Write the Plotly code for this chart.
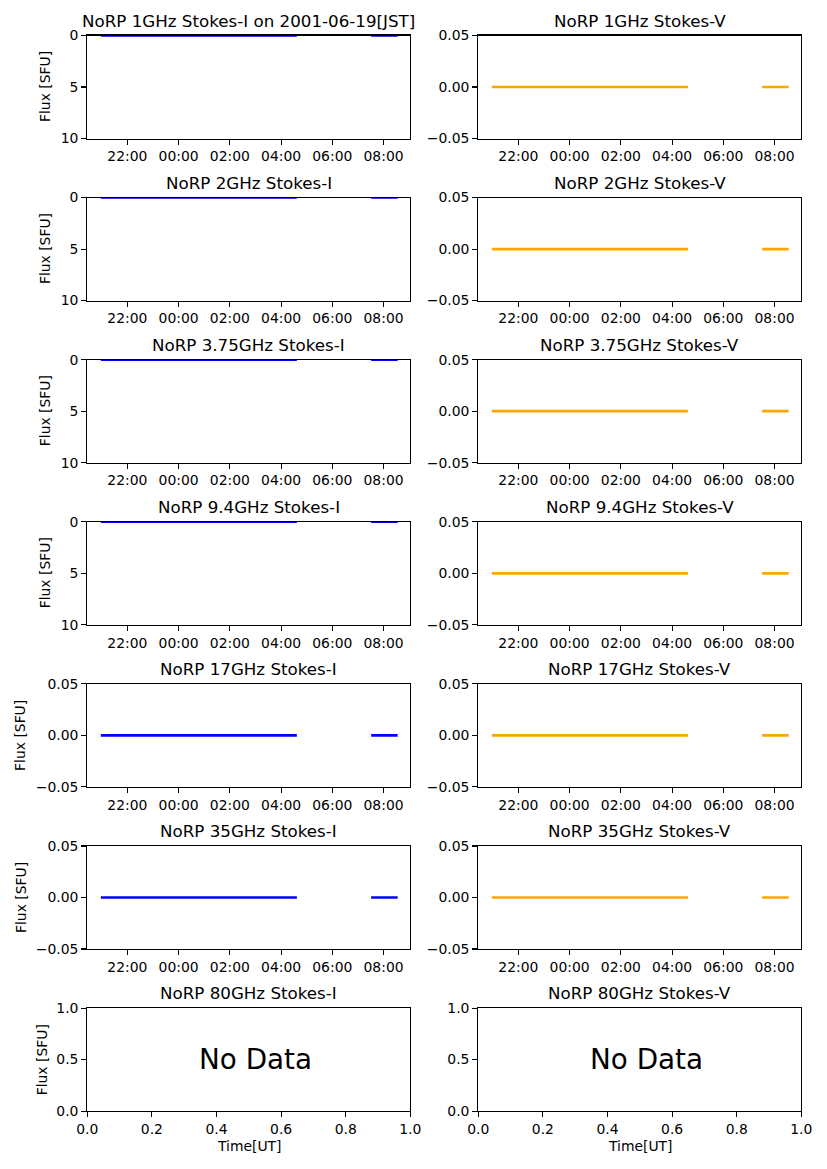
import plotly.graph_objects as go

# ---- data ----
freqs = ["1GHz", "2GHz", "3.75GHz", "9.4GHz", "17GHz", "35GHz", "80GHz"]
obs_date = "2001-06-19[JST]"
time_points = ["2001-06-18 20:58", "2001-06-19 04:37", None,
               "2001-06-19 07:31", "2001-06-19 08:33"]
stokes_i = {
    "1GHz": [0, 0, None, 0, 0],
    "2GHz": [0, 0, None, 0, 0],
    "3.75GHz": [0, 0, None, 0, 0],
    "9.4GHz": [0, 0, None, 0, 0],
    "17GHz": [0, 0, None, 0, 0],
    "35GHz": [0, 0, None, 0, 0],
    "80GHz": None,
}
stokes_v = {
    "1GHz": [0, 0, None, 0, 0],
    "2GHz": [0, 0, None, 0, 0],
    "3.75GHz": [0, 0, None, 0, 0],
    "9.4GHz": [0, 0, None, 0, 0],
    "17GHz": [0, 0, None, 0, 0],
    "35GHz": [0, 0, None, 0, 0],
    "80GHz": None,
}
time_tick0 = "2001-06-18 22:00"
time_range = ["2001-06-18 20:26:15", "2001-06-19 09:02:40"]
small_ticks = [-0.05, 0.0, 0.05]
rev_ticks = [0, 5, 10]
nodata_xticks = [0.0, 0.2, 0.4, 0.6, 0.8, 1.0]
nodata_yticks = [0.0, 0.5, 1.0]

# ---- layout geometry (pixels) ----
W, H = 827, 1169
col_x = [(87.3, 410.3), (478.3, 801.3)]
row_top0, row_step, row_h = 35.5, 162.1, 103.0

FONT = "DejaVu Sans"
TICK_PX = 13.9
TITLE_PX = 16.7

fig = go.Figure()
annotations = []
layout = dict(
    width=W, height=H, autosize=False,
    margin=dict(l=0, r=0, t=0, b=0, pad=0, autoexpand=False),
    paper_bgcolor="white", plot_bgcolor="white", showlegend=False,
    font=dict(family=FONT, size=TICK_PX, color="black"),
)

def py(pix):
    return 1 - pix / H

axis_common = dict(
    showline=True, mirror=True, linecolor="black", linewidth=1.1,
    ticks="outside", ticklen=5, tickwidth=1.1, tickcolor="black",
    showgrid=False, zeroline=False, automargin=False,
    tickfont=dict(family=FONT, size=TICK_PX, color="black"),
)

idx = 0
for r, f in enumerate(freqs):
    top = row_top0 + r * row_step
    bot = top + row_h
    for c in range(2):
        idx += 1
        xa = "xaxis" if idx == 1 else f"xaxis{idx}"
        ya = "yaxis" if idx == 1 else f"yaxis{idx}"
        xr = "x" if idx == 1 else f"x{idx}"
        yr = "y" if idx == 1 else f"y{idx}"
        x0, x1 = col_x[c]
        xdom = [x0 / W, x1 / W]
        ydom = [py(bot), py(top)]
        kind = "I" if c == 0 else "V"
        vals = (stokes_i if c == 0 else stokes_v)[f]
        if vals is None:
            layout[xa] = dict(axis_common, domain=xdom, anchor=yr, range=[0, 1],
                              tickvals=nodata_xticks, tickformat=".1f")
            layout[ya] = dict(axis_common, domain=ydom, anchor=xr, range=[0, 1],
                              tickvals=nodata_yticks, tickformat=".1f")
            fig.add_trace(go.Scatter(x=[None], y=[None], xaxis=xr, yaxis=yr))
            annotations.append(dict(x=0.5, y=0.5, xref=xr, yref=yr, text="No Data",
                                    showarrow=False, xanchor="center", yanchor="middle",
                                    xshift=7,
                                    font=dict(family=FONT, size=27.8, color="black")))
            annotations.append(dict(x=(x0 + x1) / 2 / W, y=py(1146), xref="paper",
                                    yref="paper", text="Time[UT]", showarrow=False,
                                    xanchor="center", yanchor="middle",
                                    font=dict(family=FONT, size=TICK_PX, color="black")))
        else:
            layout[xa] = dict(axis_common, domain=xdom, anchor=yr, type="date",
                              range=time_range, tick0=time_tick0, dtick=7200000,
                              tickformat="%H:%M")
            if c == 0 and r < 4:
                layout[ya] = dict(axis_common, domain=ydom, anchor=xr,
                                  range=[10, 0], tickvals=rev_ticks)
                lw = 2.5
            else:
                layout[ya] = dict(axis_common, domain=ydom, anchor=xr,
                                  range=[-0.05, 0.05], tickvals=small_ticks,
                                  tickformat=".2f")
                lw = 2.7
            color = "blue" if c == 0 else "orange"
            fig.add_trace(go.Scatter(x=time_points, y=vals, mode="lines",
                                     line=dict(color=color, width=lw),
                                     connectgaps=False, xaxis=xr, yaxis=yr,
                                     hoverinfo="skip"))
        # title
        title = f"NoRP {f} Stokes-{kind}"
        if idx == 1:
            title += f" on {obs_date}"
        annotations.append(dict(x=(x0 + x1) / 2 / W, y=py(top), xref="paper",
                                yref="paper", text=title, showarrow=False,
                                xanchor="center", yanchor="bottom", yshift=3,
                                font=dict(family=FONT, size=TITLE_PX, color="black")))
        # y label
        if c == 0:
            if r < 4:
                lx = 45
            elif r < 6:
                lx = 20.5
            else:
                lx = 41.7
            annotations.append(dict(x=lx / W, y=py((top + bot) / 2), xref="paper",
                                    yref="paper", text="Flux [SFU]", showarrow=False,
                                    textangle=-90, xanchor="center", yanchor="middle",
                                    font=dict(family=FONT, size=TICK_PX, color="black")))

layout["annotations"] = annotations
fig.update_layout(**layout)
fig.write_html("out.html",
               config={"displayModeBar": False, "staticPlot": True},
               post_script="document.body.style.margin='0';document.body.style.overflow='hidden';")
